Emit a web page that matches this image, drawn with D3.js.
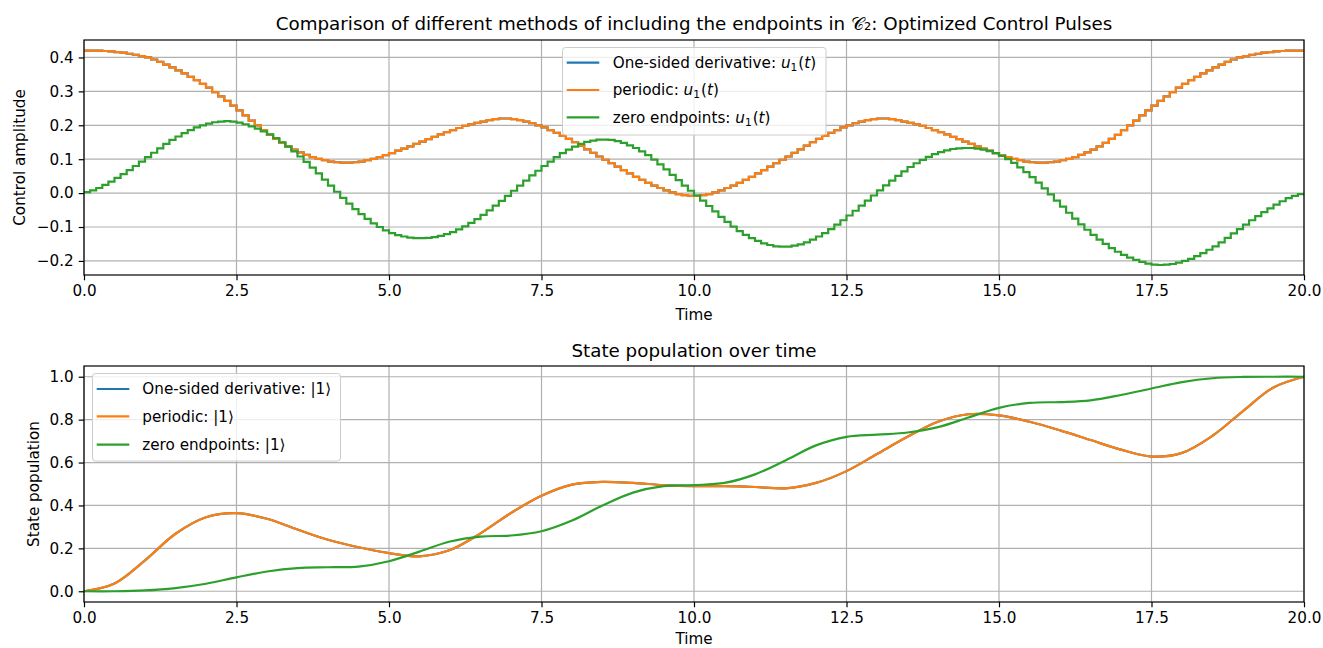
<!DOCTYPE html>
<html>
<head>
<meta charset="utf-8">
<script src="https://cdn.jsdelivr.net/npm/d3@7"></script>
<style>
body { margin: 0; background: #fff; }
svg text { font-family: "DejaVu Sans", sans-serif; fill: #000; }
</style>
</head>
<body>
<svg width="1323" height="648"></svg>
<script>
// pulse values, one per 0.1 time step (piecewise constant)
var dt = 0.1;
var periodicU = [
  0.420,0.420,0.420,0.419,0.418,0.416,0.414,0.411,0.408,0.404,
  0.400,0.394,0.387,0.379,0.371,0.362,0.353,0.343,0.333,0.322,
  0.311,0.298,0.285,0.272,0.258,0.244,0.229,0.214,0.200,0.186,
  0.172,0.160,0.148,0.138,0.128,0.120,0.113,0.106,0.101,0.097,
  0.093,0.091,0.090,0.090,0.091,0.093,0.097,0.101,0.106,0.112,
  0.118,0.125,0.131,0.138,0.145,0.152,0.159,0.166,0.173,0.180,
  0.186,0.192,0.198,0.203,0.207,0.211,0.215,0.218,0.220,0.220,
  0.218,0.215,0.211,0.206,0.200,0.194,0.186,0.178,0.169,0.160,
  0.150,0.140,0.129,0.119,0.108,0.098,0.088,0.078,0.068,0.058,
  0.048,0.039,0.030,0.022,0.015,0.008,0.002,-0.003,-0.006,-0.008,
  -0.008,-0.006,-0.003,0.002,0.008,0.015,0.022,0.030,0.039,0.048,
  0.058,0.068,0.078,0.088,0.098,0.108,0.119,0.129,0.140,0.150,
  0.160,0.169,0.178,0.186,0.194,0.200,0.206,0.211,0.215,0.218,
  0.220,0.220,0.218,0.215,0.211,0.207,0.203,0.198,0.192,0.186,
  0.180,0.173,0.166,0.159,0.152,0.145,0.138,0.131,0.125,0.118,
  0.112,0.106,0.101,0.097,0.093,0.091,0.090,0.090,0.091,0.093,
  0.097,0.101,0.106,0.113,0.120,0.128,0.138,0.148,0.160,0.172,
  0.186,0.200,0.214,0.229,0.244,0.258,0.272,0.285,0.298,0.311,
  0.322,0.333,0.343,0.353,0.362,0.371,0.379,0.387,0.394,0.400,
  0.404,0.408,0.411,0.414,0.416,0.418,0.419,0.420,0.420,0.420
];
var oneSidedU = periodicU.slice(); // same as periodic, drawn underneath
var zeroU = [
  0.003,0.008,0.015,0.024,0.034,0.045,0.056,0.068,0.080,0.093,
  0.106,0.119,0.132,0.145,0.157,0.167,0.177,0.186,0.194,0.200,
  0.205,0.209,0.211,0.212,0.211,0.208,0.203,0.197,0.190,0.182,
  0.173,0.162,0.150,0.137,0.123,0.108,0.092,0.075,0.058,0.040,
  0.022,0.004,-0.014,-0.031,-0.047,-0.062,-0.076,-0.089,-0.100,-0.110,
  -0.118,-0.124,-0.128,-0.131,-0.133,-0.133,-0.132,-0.130,-0.126,-0.121,
  -0.115,-0.107,-0.098,-0.088,-0.077,-0.064,-0.051,-0.037,-0.023,-0.008,
  0.007,0.022,0.037,0.052,0.066,0.080,0.093,0.106,0.118,0.128,
  0.137,0.145,0.151,0.155,0.158,0.158,0.157,0.153,0.148,0.141,
  0.133,0.123,0.112,0.099,0.085,0.070,0.054,0.038,0.022,0.007,
  -0.007,-0.022,-0.038,-0.054,-0.070,-0.085,-0.099,-0.112,-0.123,-0.133,
  -0.141,-0.148,-0.153,-0.157,-0.158,-0.158,-0.155,-0.151,-0.145,-0.137,
  -0.128,-0.118,-0.106,-0.093,-0.080,-0.066,-0.052,-0.037,-0.022,-0.007,
  0.008,0.023,0.037,0.051,0.064,0.077,0.088,0.098,0.107,0.115,
  0.121,0.126,0.130,0.132,0.133,0.133,0.131,0.128,0.124,0.118,
  0.110,0.100,0.089,0.076,0.062,0.047,0.031,0.014,-0.004,-0.022,
  -0.040,-0.058,-0.075,-0.092,-0.108,-0.123,-0.137,-0.150,-0.162,-0.173,
  -0.182,-0.190,-0.197,-0.203,-0.208,-0.211,-0.212,-0.211,-0.209,-0.205,
  -0.200,-0.194,-0.186,-0.177,-0.167,-0.157,-0.145,-0.132,-0.119,-0.106,
  -0.093,-0.080,-0.068,-0.056,-0.045,-0.034,-0.024,-0.015,-0.008,-0.003
];

// population of |1>, sampled every 0.5
var popTime = [0,0.5,1,1.5,2,2.5,3,3.5,4,4.5,5,5.5,6,6.5,7,7.5,8,8.5,9,9.5,10,
  10.5,11,11.5,12,12.5,13,13.5,14,14.5,15,15.5,16,16.5,17,17.5,18,18.5,19,19.5,20];
var periodicPop = [0.000,0.036,0.144,0.268,0.345,0.364,0.338,0.288,0.240,0.205,0.178,
  0.163,0.192,0.270,0.365,0.445,0.497,0.510,0.505,0.495,0.490,
  0.490,0.486,0.480,0.505,0.560,0.640,0.720,0.790,0.825,0.820,
  0.790,0.750,0.705,0.660,0.628,0.645,0.725,0.840,0.950,1.000];
var oneSidedPop = periodicPop.slice();
var zeroPop = [0.000,0.000,0.004,0.015,0.035,0.065,0.092,0.108,0.112,0.115,0.140,
  0.185,0.232,0.255,0.260,0.280,0.330,0.400,0.460,0.490,0.495,
  0.505,0.545,0.610,0.680,0.720,0.730,0.740,0.765,0.810,0.855,
  0.878,0.882,0.890,0.915,0.945,0.975,0.993,0.999,1.000,1.000];

var xTicks = [0, 2.5, 5, 7.5, 10, 12.5, 15, 17.5, 20];
var topTicks = [-0.2, -0.1, 0, 0.1, 0.2, 0.3, 0.4];
var botTicks = [0, 0.2, 0.4, 0.6, 0.8, 1.0];
var names = ['One-sided derivative', 'periodic', 'zero endpoints'];
var colors = ['#1f77b4', '#ff7f0e', '#2ca02c'];

var svg = d3.select('svg');
var left = 84, right = 1304;
var fs = 15.2;

var x = d3.scaleLinear().domain([0, 20]).range([left, right]);
var yTop = d3.scaleLinear().domain([-0.2415, 0.4515]).range([275, 40]);
var yBot = d3.scaleLinear().domain([-0.05, 1.05]).range([602, 366]);

function drawAxes(y, ticks) {
    var r = y.range();
    var g = svg.append('g');
    // grid
    g.selectAll('.gx').data(xTicks).enter().append('line')
        .attr('x1', function(d){ return x(d); }).attr('x2', function(d){ return x(d); })
        .attr('y1', r[1]).attr('y2', r[0])
        .attr('stroke', '#b0b0b0').attr('stroke-width', 1.2);
    g.selectAll('.gy').data(ticks).enter().append('line')
        .attr('x1', left).attr('x2', right)
        .attr('y1', function(d){ return y(d); }).attr('y2', function(d){ return y(d); })
        .attr('stroke', '#b0b0b0').attr('stroke-width', 1.2);

    var xAxis = d3.axisBottom(x).tickValues(xTicks).tickFormat(d3.format('.1f'))
        .tickSizeInner(5.3).tickSizeOuter(0).tickPadding(5);
    var yAxis = d3.axisLeft(y).tickValues(ticks).tickFormat(d3.format('.1f'))
        .tickSizeInner(5.3).tickSizeOuter(0).tickPadding(5);
    var ax = svg.append('g').attr('transform', 'translate(0,' + r[0] + ')').call(xAxis);
    var ay = svg.append('g').attr('transform', 'translate(' + left + ',0)').call(yAxis);
    [ax, ay].forEach(function(a) {
        a.select('.domain').remove();
        a.selectAll('line').attr('stroke', '#000').attr('stroke-width', 1.2);
        a.selectAll('text').style('font-size', fs + 'px').attr('fill', '#000')
            .style('font-family', '"DejaVu Sans", sans-serif');
    });
    return g;
}

function frame(y) {
    var r = y.range();
    svg.append('rect').attr('x', left).attr('y', r[1])
        .attr('width', right - left).attr('height', r[0] - r[1])
        .attr('fill', 'none').attr('stroke', '#000').attr('stroke-width', 1.2);
}

function addMath(t, kind) {
    if (kind === 'u') {
        t.append('tspan').style('font-style', 'italic').text('u');
        t.append('tspan').style('font-size', (fs * 0.7) + 'px').attr('dy', 3).text('1');
        t.append('tspan').attr('dy', -3).attr('dx', 1).text('(');
        t.append('tspan').style('font-style', 'italic').text('t');
        t.append('tspan').text(')');
    } else {
        t.append('tspan').text('|1\u27E9');
    }
}

function legend(x0, y0, w, h, rows, textX, hx0, hx1, kind) {
    var g = svg.append('g');
    g.append('rect').attr('x', x0).attr('y', y0).attr('width', w).attr('height', h)
        .attr('rx', 3).attr('fill', 'rgba(255,255,255,0.8)')
        .attr('stroke', '#cccccc').attr('stroke-width', 1);
    names.forEach(function(n, i) {
        g.append('line').attr('x1', hx0).attr('x2', hx1).attr('y1', rows[i]).attr('y2', rows[i])
            .attr('stroke', colors[i]).attr('stroke-width', 2.2);
        var t = g.append('text').attr('x', textX).attr('y', rows[i]).attr('dy', '0.35em')
            .style('font-size', fs + 'px');
        t.append('tspan').text(n + ': ');
        addMath(t, kind);
    });
}

// ---- top: control pulses ----
drawAxes(yTop, topTicks);
var stepLine = d3.line()
    .x(function(d, i){ return x(i * dt); })
    .y(function(d){ return yTop(d); })
    .curve(d3.curveStepAfter);
[oneSidedU, periodicU, zeroU].forEach(function(s, k) {
    var pts = s.concat([s[s.length - 1]]);
    svg.append('path').datum(pts)
        .attr('fill', 'none').attr('stroke', colors[k]).attr('stroke-width', 2.2)
        .attr('d', stepLine);
});
frame(yTop);

svg.append('text').attr('x', (left + right) / 2).attr('y', 30).attr('text-anchor', 'middle')
    .style('font-size', '18.3px')
    .text('Comparison of different methods of including the endpoints in \uD835\uDC9E\u2082: Optimized Control Pulses');
svg.append('text').attr('x', (left + right) / 2).attr('y', 320).attr('text-anchor', 'middle')
    .style('font-size', fs + 'px').text('Time');
svg.append('text').attr('transform', 'translate(25,157.5) rotate(-90)').attr('text-anchor', 'middle')
    .style('font-size', fs + 'px').text('Control amplitude');
legend(562.5, 47.5, 263.5, 87.5, [62.7, 90, 117.3], 612.7, 566.7, 599.3, 'u');

// ---- bottom: state population ----
drawAxes(yBot, botTicks);
var popLine = d3.line()
    .x(function(d, i){ return x(popTime[i]); })
    .y(function(d){ return yBot(d); })
    .curve(d3.curveCatmullRom.alpha(0.5));
[oneSidedPop, periodicPop, zeroPop].forEach(function(s, k) {
    svg.append('path').datum(s)
        .attr('fill', 'none').attr('stroke', colors[k]).attr('stroke-width', 2.2)
        .attr('d', popLine);
});
frame(yBot);

svg.append('text').attr('x', (left + right) / 2).attr('y', 357).attr('text-anchor', 'middle')
    .style('font-size', '18.3px').text('State population over time');
svg.append('text').attr('x', (left + right) / 2).attr('y', 644).attr('text-anchor', 'middle')
    .style('font-size', fs + 'px').text('Time');
svg.append('text').attr('transform', 'translate(39,484) rotate(-90)').attr('text-anchor', 'middle')
    .style('font-size', fs + 'px').text('State population');
legend(92.5, 373.5, 248, 87.5, [389, 416.3, 444.7], 142.3, 96.7, 129.3, 'ket');
</script>
</body>
</html>
